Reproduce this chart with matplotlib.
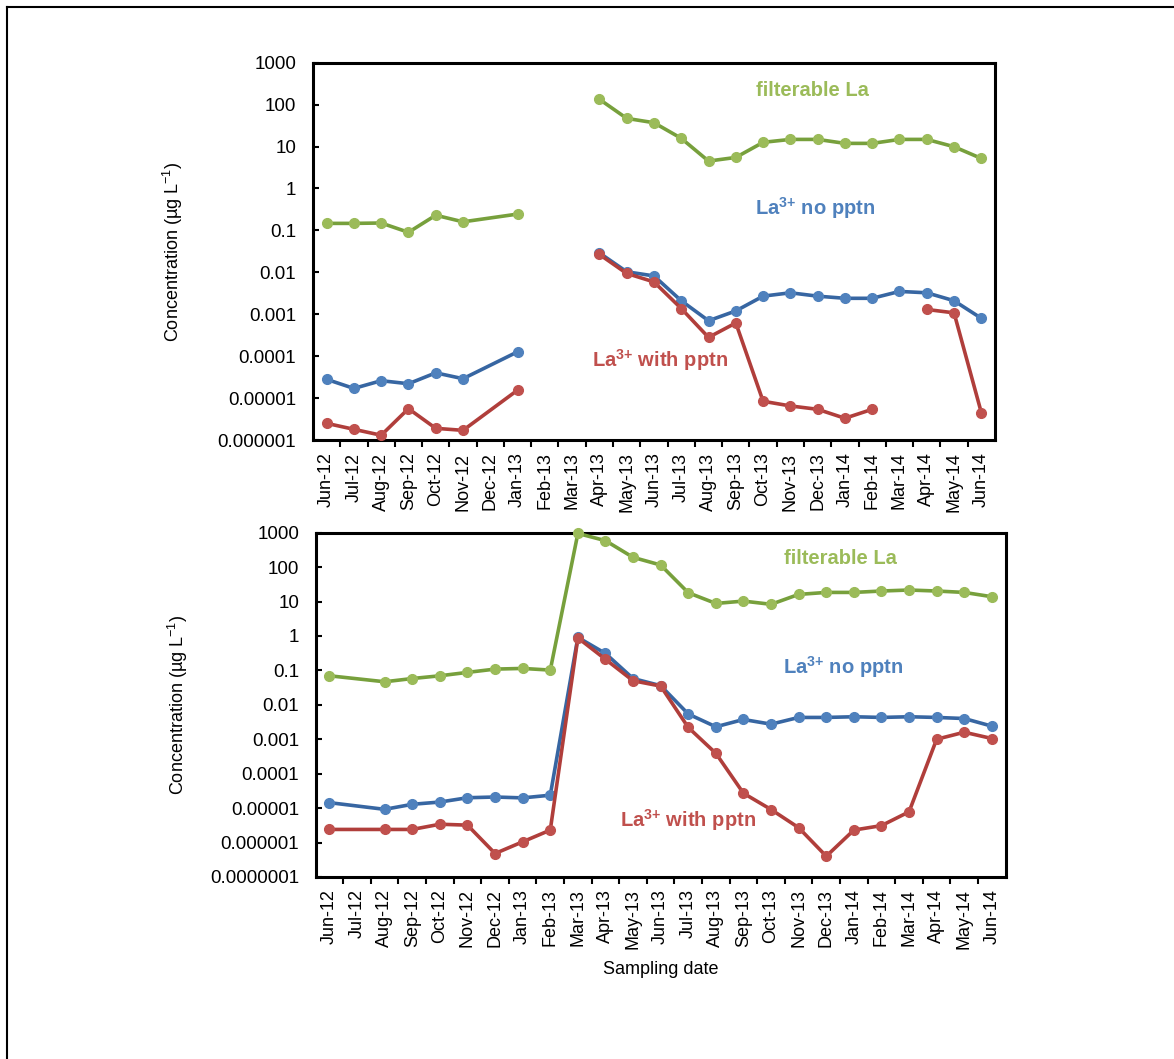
import numpy as np
import matplotlib
matplotlib.use("Agg")
import matplotlib.pyplot as plt
from matplotlib.lines import Line2D

# Fuentes tipo Arial
plt.rcParams["font.family"] = ["Liberation Sans", "DejaVu Sans"]
plt.rcParams["mathtext.fontset"] = "custom"
plt.rcParams["mathtext.rm"] = "Liberation Sans"
plt.rcParams["mathtext.bf"] = "Liberation Sans:bold"

nan = np.nan

# Etiquetas de los meses (Jun-12 .. Jun-14)
month_labels = ["Jun-12", "Jul-12", "Aug-12", "Sep-12", "Oct-12", "Nov-12",
                "Dec-12", "Jan-13", "Feb-13", "Mar-13", "Apr-13", "May-13",
                "Jun-13", "Jul-13", "Aug-13", "Sep-13", "Oct-13", "Nov-13",
                "Dec-13", "Jan-14", "Feb-14", "Mar-14", "Apr-14", "May-14",
                "Jun-14"]

# Gráfico superior: meses muestreados (índice en month_labels)
top_months = [0, 1, 2, 3, 4, 5, 7, 8, 9] + list(range(10, 25))
top_green = [0.147, 0.147, 0.15, 0.09, 0.23, 0.16, 0.245, nan, nan,
             134, 47, 37, 15.7, 4.5, 5.5, 12.6, 14.8, 14.8, 11.9, 11.9,
             14.8, 14.8, 9.9, 5.2]
top_blue = [2.8e-5, 1.7e-5, 2.6e-5, 2.2e-5, 4.0e-5, 2.9e-5, 1.27e-4, nan, nan,
            0.029, 0.0103, 0.0082, 0.0021, 0.0007, 0.0012, 0.0027, 0.00325,
            0.0027, 0.0024, 0.0024, 0.0035, 0.00325, 0.0021, 0.0008]
top_red = [2.5e-6, 1.8e-6, 1.3e-6, 5.6e-6, 1.9e-6, 1.7e-6, 1.55e-5, nan, nan,
           0.0267, 0.0094, 0.0059, 0.00137, 0.00028, 0.00062, 8.4e-6, 6.5e-6,
           5.4e-6, 3.3e-6, 5.4e-6, nan, 0.0013, 0.00108, 4.5e-6]

# Gráfico inferior
bot_months = [0] + list(range(2, 25))
bot_green = [0.0697, 0.0467, 0.058, 0.0697, 0.0875, 0.109, 0.114, 0.102,
             950, 586, 192, 115, 18, 8.8, 10.3, 8.3, 16.1, 18.4, 18.4, 20.2,
             21.6, 20.2, 18.4, 13.8]
bot_blue = [1.44e-5, 9.2e-6, 1.29e-5, 1.5e-5, 2.0e-5, 2.1e-5, 1.98e-5, 2.37e-5,
            0.91, 0.31, 0.058, 0.036, 0.0054, 0.0023, 0.00375, 0.00274,
            0.0043, 0.0043, 0.0045, 0.0043, 0.0045, 0.0043, 0.004, 0.0024]
bot_red = [2.4e-6, 2.4e-6, 2.4e-6, 3.4e-6, 3.2e-6, 4.8e-7, 1.05e-6, 2.3e-6,
           0.88, 0.21, 0.05, 0.035, 0.0022, 0.00039, 2.7e-5, 9.1e-6, 2.7e-6,
           4.0e-7, 2.3e-6, 3.1e-6, 7.8e-6, 0.001, 0.0016, 0.00105]

# Colores (línea, marcador)
GREEN = ("#77A03C", "#9BBB59")
BLUE = ("#3766A2", "#4F81BD")
RED = ("#B03E3B", "#C0504D")


def draw_series(ax, x, y, colors):
    line_c, mark_c = colors
    ax.plot(x, y, color=line_c, linewidth=2.6, marker="o", markersize=7,
            markerfacecolor=mark_c, markeredgecolor=mark_c, clip_on=False,
            zorder=3)


def style_axes(ax, decades):
    ax.set_yscale("log")
    ax.set_ylim(decades[0], decades[-1])
    ax.set_xlim(-0.5, len(month_labels) - 0.5)
    ax.set_yticks(decades)
    labels = [np.format_float_positional(d, trim="-") for d in decades]
    ax.set_yticklabels(labels)
    ax.yaxis.set_minor_locator(plt.NullLocator())
    ax.tick_params(axis="y", direction="in", length=4, width=1.5,
                   labelsize=13.5, pad=12)
    # Etiquetas en el centro de cada mes, marcas en los límites
    ax.set_xticks(range(len(month_labels)))
    ax.set_xticklabels(month_labels, rotation=90)
    ax.set_xticks(np.arange(0.5, len(month_labels) - 0.5, 1), minor=True)
    ax.tick_params(axis="x", which="major", length=0, labelsize=13, pad=9)
    ax.tick_params(axis="x", which="minor", direction="out", length=5,
                   width=1.5)
    for sp in ax.spines.values():
        sp.set_linewidth(2.2)
    ax.set_ylabel(r"Concentration (µg L$^{\mathrm{{-}1}}$)", fontsize=13)


def add_labels(ax, pos_green, pos_blue, pos_red):
    kw = dict(transform=ax.transAxes, ha="center", va="center",
              fontsize=14.5, fontweight="bold")
    ax.text(*pos_green, "filterable La", color=GREEN[1], **kw)
    ax.text(*pos_blue, r"La$^{\mathbf{3{+}}}$ no pptn", color=BLUE[1], **kw)
    ax.text(*pos_red, r"La$^{\mathbf{3{+}}}$ with pptn", color=RED[1], **kw)


fig = plt.figure(figsize=(11.74, 10.59), dpi=100)

# Gráfico superior
ax1 = fig.add_axes([0.2666, 0.5845, 0.5809, 0.3563])
draw_series(ax1, top_months, top_green, GREEN)
draw_series(ax1, top_months, top_blue, BLUE)
draw_series(ax1, top_months, top_red, RED)
style_axes(ax1, [1e-6, 1e-5, 1e-4, 1e-3, 1e-2, 1e-1, 1, 10, 100, 1000])
ax1.yaxis.set_label_coords(-0.188, 0.5)
add_labels(ax1, (0.732, 0.925), (0.736, 0.615), (0.509, 0.212))

# Gráfico inferior
ax2 = fig.add_axes([0.2689, 0.1719, 0.5877, 0.3251])
draw_series(ax2, bot_months, bot_green, GREEN)
draw_series(ax2, bot_months, bot_blue, BLUE)
draw_series(ax2, bot_months, bot_red, RED)
style_axes(ax2, [1e-7, 1e-6, 1e-5, 1e-4, 1e-3, 1e-2, 1e-1, 1, 10, 100, 1000])
ax2.yaxis.set_label_coords(-0.182, 0.5)
ax2.set_xlabel("Sampling date", fontsize=13)
ax2.xaxis.set_label_coords(0.5, -0.245)
add_labels(ax2, (0.760, 0.926), (0.764, 0.61), (0.540, 0.166))

# Borde exterior (arriba e izquierda)
fig.add_artist(Line2D([6.5 / 1174, 1.0], [1 - 6.5 / 1059] * 2,
                      transform=fig.transFigure, color="black", linewidth=1.5))
fig.add_artist(Line2D([6.5 / 1174] * 2, [0.0, 1 - 6.5 / 1059],
                      transform=fig.transFigure, color="black", linewidth=1.5))

fig.savefig("out.png", dpi=100)
plt.close(fig)
